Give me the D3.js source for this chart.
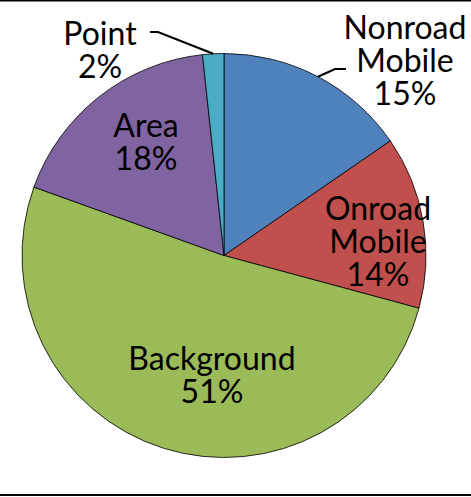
<!DOCTYPE html>
<html>
<head>
<meta charset="utf-8">
<script src="https://cdn.jsdelivr.net/npm/d3@7"></script>
<style>
  html, body { margin: 0; padding: 0; background: #fff; }
  svg { display: block; }
  text { font-family: Lato, "Open Sans", sans-serif; font-size: 32px; fill: #000; }
</style>
</head>
<body>
<svg id="chart" width="471" height="497"></svg>
<script>
// data, clockwise from 12 o'clock
const categories = ["Nonroad Mobile", "Onroad Mobile", "Background", "Area", "Point"];
const shares = [15.4, 13.8, 51.3, 17.8, 1.7];
const colors = ["#4F81BD", "#C0504D", "#9BBB59", "#8064A2", "#4BACC6"];

// label placement (centre x, first baseline) and which ones get a leader line
const labelLayout = {
  "Nonroad Mobile": { x: 405, y: 39, leader: [[346, 69], [335, 69]] },
  "Onroad Mobile": { x: 378, y: 220 },
  "Background": { x: 212, y: 370 },
  "Area": { x: 146, y: 137 },
  "Point": { x: 100, y: 45, leader: [[150, 32], [158, 32]] }
};

const W = 471, H = 497;
const cx = 224, cy = 255.5, R = 202;
const lineH = 33;

const svg = d3.select("#chart");

// frame lines top / bottom
svg.append("line").attr("x1", 0).attr("x2", W).attr("y1", 0.5).attr("y2", 0.5)
  .attr("stroke", "#000").attr("stroke-width", 2);
svg.append("line").attr("x1", 0).attr("x2", W).attr("y1", 495).attr("y2", 495)
  .attr("stroke", "#000").attr("stroke-width", 2);

const data = categories.map((c, i) => ({ name: c, value: shares[i], color: colors[i] }));

const pie = d3.pie().sort(null).value(d => d.value);
const arcs = pie(data);
const arc = d3.arc().innerRadius(0).outerRadius(R);

const g = svg.append("g").attr("transform", `translate(${cx},${cy})`);

g.selectAll("path")
  .data(arcs)
  .enter().append("path")
  .attr("d", arc)
  .attr("fill", d => d.data.color)
  .attr("stroke", "#000")
  .attr("stroke-width", 0.8)
  .attr("stroke-linejoin", "round");

// leader lines: from label to the middle of the slice edge
arcs.forEach(a => {
  const lay = labelLayout[a.data.name];
  if (!lay.leader) return;
  const mid = (a.startAngle + a.endAngle) / 2;
  const end = [cx + Math.sin(mid) * R, cy - Math.cos(mid) * R];
  const pts = lay.leader.concat([end]);
  svg.append("path")
    .attr("d", d3.line()(pts))
    .attr("fill", "none")
    .attr("stroke", "#000")
    .attr("stroke-width", 2.2);
});

// labels
arcs.forEach(a => {
  const lay = labelLayout[a.data.name];
  const lines = a.data.name.split(" ").concat([Math.round(a.data.value) + "%"]);
  const t = svg.append("text")
    .attr("text-anchor", "middle")
    .attr("x", lay.x).attr("y", lay.y);
  lines.forEach((s, i) => {
    t.append("tspan").attr("x", lay.x).attr("dy", i === 0 ? 0 : lineH).text(s);
  });
});
</script>
</body>
</html>
